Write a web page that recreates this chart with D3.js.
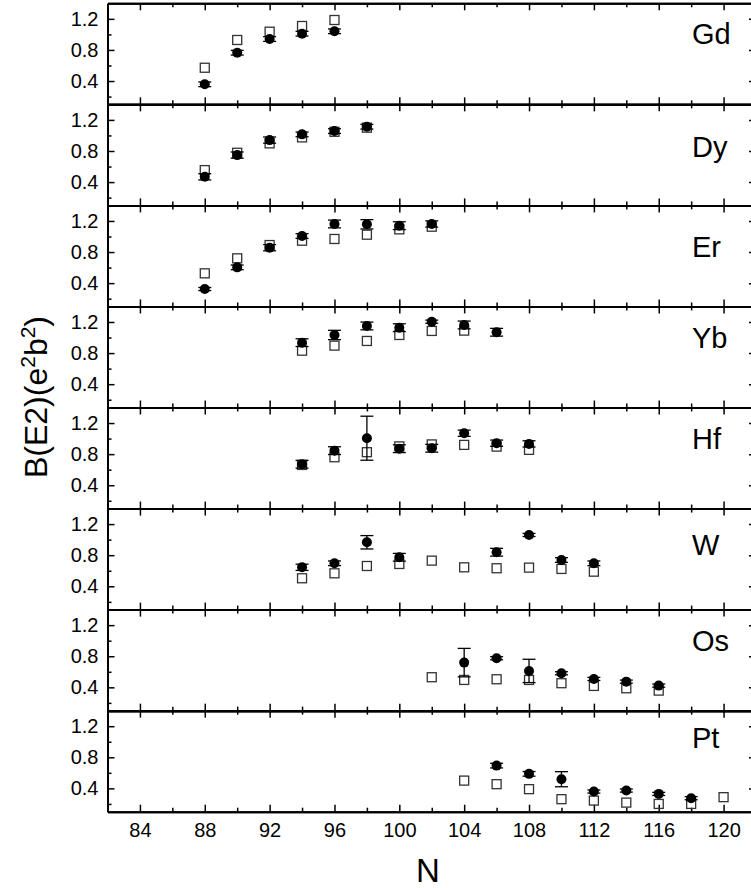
<!DOCTYPE html>
<html>
<head>
<meta charset="utf-8">
<script src="https://cdn.jsdelivr.net/npm/d3@7"></script>
<style>
  html, body { margin: 0; padding: 0; background: #fff; }
  svg { display: block; font-family: "Liberation Sans", Arial, sans-serif; }
</style>
</head>
<body>
<svg id="chart" width="751" height="888"></svg>
<script>
// ---------------- DATA ----------------
const elements = ["Gd", "Dy", "Er", "Yb", "Hf", "W", "Os", "Pt"];

// filled circles (experiment) : N, value, error
const expGd = [[88,0.358,0.03],[90,0.764,0.03],[92,0.94,0.03],[94,1.009,0.03],[96,1.04,0.03]];
const expDy = [[88,0.468,0.04],[90,0.747,0.04],[92,0.94,0.04],[94,1.014,0.03],[96,1.056,0.03],[98,1.112,0.03]];
const expEr = [[88,0.324,0.02],[90,0.603,0.03],[92,0.856,0.04],[94,1.006,0.03],[96,1.161,0.05],[98,1.157,0.06],[100,1.139,0.05],[102,1.161,0.04]];
const expYb = [[94,0.934,0.05],[96,1.033,0.06],[98,1.149,0.05],[100,1.127,0.05],[102,1.204,0.02],[104,1.162,0.05],[106,1.068,0.05]];
const expHf = [[94,0.67,0.05],[96,0.845,0.05],[98,1.005,0.283],[100,0.87,0.05],[102,0.876,0.05],[104,1.069,0.04],[106,0.941,0.04],[108,0.932,0.04]];
const expW  = [[94,0.644,0.04],[96,0.696,0.03],[98,0.966,0.086],[100,0.773,0.05],[106,0.838,0.05],[108,1.06,0.02],[110,0.738,0.03],[112,0.696,0.03]];
const expOs = [[104,0.718,0.183],[106,0.774,0.02],[108,0.611,0.15],[110,0.581,0.02],[112,0.508,0.02],[114,0.473,0.02],[116,0.422,0.02]];
const expPt = [[106,0.693,0.03],[108,0.587,0.03],[110,0.518,0.097],[112,0.359,0.02],[114,0.372,0.02],[116,0.329,0.02],[118,0.274,0.02]];

// open squares (calculation) : N, value
const thGd = [[88,0.571],[90,0.928],[92,1.035],[94,1.108],[96,1.185]];
const thDy = [[88,0.554],[90,0.777],[92,0.898],[94,0.975],[96,1.047],[98,1.10]];
const thEr = [[88,0.526],[90,0.719],[92,0.89],[94,0.946],[96,0.968],[98,1.023],[100,1.092],[102,1.126]];
const thYb = [[94,0.831],[96,0.896],[98,0.956],[100,1.033],[102,1.085],[104,1.089]];
const thHf = [[94,0.661],[96,0.76],[98,0.825],[100,0.90],[102,0.925],[104,0.919],[106,0.897],[108,0.855]];
const thW  = [[94,0.503],[96,0.567],[98,0.661],[100,0.687],[102,0.73],[104,0.644],[106,0.632],[108,0.64],[110,0.623],[112,0.588]];
const thOs = [[102,0.53],[104,0.495],[106,0.504],[108,0.495],[110,0.453],[112,0.418],[114,0.388],[116,0.358]];
const thPt = [[104,0.50],[106,0.454],[108,0.39],[110,0.261],[112,0.243],[114,0.217],[116,0.20],[118,0.20],[120,0.287]];

const expData = [expGd, expDy, expEr, expYb, expHf, expW, expOs, expPt];
const thData  = [thGd, thDy, thEr, thYb, thHf, thW, thOs, thPt];

const xMajorTicks = [84, 88, 92, 96, 100, 104, 108, 112, 116, 120];
const xMinorTicks = [86, 90, 94, 98, 102, 106, 110, 114, 118];
const yMajorTicks = [0.4, 0.8, 1.2];
const yMinorTicks = [0.2, 0.6, 1.0];

// label placement (pixels below panel top) - layout only
const labelOffset = [41, 53, 52, 42, 41, 46, 41, 37];

// ---------------- LAYOUT ----------------
const svg = d3.select("#chart");
const left = 107.5, right = 756;
const top0 = 3.3, panelH = 101.05;
const x = d3.scaleLinear().domain([82, 122]).range([left, right]);

const axisColor = "#000";

elements.forEach((el, i) => {
  const top = top0 + i * panelH;
  const bottom = top + panelH;
  const y = d3.scaleLinear().domain([0.1, 1.4]).range([bottom, top]);
  const g = svg.append("g");

  const isLast = i === elements.length - 1;
  g.append("g").attr("transform", `translate(0,${bottom})`)
    .call(d3.axisBottom(x).tickValues(xMajorTicks).tickSize(-7).tickSizeOuter(0)
      .tickPadding(11.5).tickFormat(isLast ? d3.format("d") : ""));
  g.append("g").attr("transform", `translate(0,${bottom})`)
    .call(d3.axisBottom(x).tickValues(xMinorTicks).tickSize(-4).tickSizeOuter(0).tickFormat(""));
  g.append("g").attr("transform", `translate(0,${top})`)
    .call(d3.axisTop(x).tickValues(xMajorTicks).tickSize(-7).tickSizeOuter(0).tickFormat(""));
  g.append("g").attr("transform", `translate(0,${top})`)
    .call(d3.axisTop(x).tickValues(xMinorTicks).tickSize(-4).tickSizeOuter(0).tickFormat(""));
  g.append("g").attr("transform", `translate(${left},0)`)
    .call(d3.axisLeft(y).tickValues(yMajorTicks).tickSize(-7).tickSizeOuter(0)
      .tickPadding(9).tickFormat(d3.format(".1f")));
  g.append("g").attr("transform", `translate(${left},0)`)
    .call(d3.axisLeft(y).tickValues(yMinorTicks).tickSize(-4).tickSizeOuter(0).tickFormat(""));
  g.append("g").attr("transform", `translate(${right},0)`)
    .call(d3.axisRight(y).tickValues(yMajorTicks).tickSize(-7).tickSizeOuter(0).tickFormat(""));
  g.append("g").attr("transform", `translate(${right},0)`)
    .call(d3.axisRight(y).tickValues(yMinorTicks).tickSize(-4).tickSizeOuter(0).tickFormat(""));

  g.selectAll(".domain").attr("stroke", axisColor).attr("stroke-width", 2);
  g.selectAll(".tick line").attr("stroke", axisColor).attr("stroke-width", 1.5);
  g.selectAll(".tick text").attr("font-size", 20).attr("fill", "#000")
    .attr("font-family", "'Liberation Sans', Arial, sans-serif");

  g.append("text").attr("x", 692).attr("y", top + labelOffset[i])
    .attr("font-size", 29).attr("fill", "#000").text(el);

  const s = 9;
  g.selectAll("rect.th").data(thData[i]).enter().append("rect")
    .attr("class", "th")
    .attr("x", d => x(d[0]) - s / 2).attr("y", d => y(d[1]) - s / 2)
    .attr("width", s).attr("height", s)
    .attr("fill", "none").attr("stroke", "#333").attr("stroke-width", 1.3);

  const cap = 6.5;
  const eb = g.selectAll("g.eb").data(expData[i]).enter().append("g").attr("class", "eb")
    .attr("stroke", "#000").attr("stroke-width", 1.3);
  eb.append("line").attr("x1", d => x(d[0])).attr("x2", d => x(d[0]))
    .attr("y1", d => y(d[1] - d[2])).attr("y2", d => y(d[1] + d[2]));
  eb.append("line").attr("x1", d => x(d[0]) - cap).attr("x2", d => x(d[0]) + cap)
    .attr("y1", d => y(d[1] - d[2])).attr("y2", d => y(d[1] - d[2]));
  eb.append("line").attr("x1", d => x(d[0]) - cap).attr("x2", d => x(d[0]) + cap)
    .attr("y1", d => y(d[1] + d[2])).attr("y2", d => y(d[1] + d[2]));

  g.selectAll("circle.exp").data(expData[i]).enter().append("circle")
    .attr("class", "exp")
    .attr("cx", d => x(d[0])).attr("cy", d => y(d[1])).attr("r", 5)
    .attr("fill", "#000");
});

svg.append("text").attr("x", 428).attr("y", 882).attr("text-anchor", "middle")
  .attr("font-size", 33).attr("fill", "#000").text("N");

const yl = svg.append("text")
  .attr("transform", "translate(47,397) rotate(-90)")
  .attr("text-anchor", "middle").attr("font-size", 32).attr("fill", "#000");
yl.append("tspan").text("B(E2)(e");
yl.append("tspan").attr("font-size", 21).attr("dy", -12).text("2");
yl.append("tspan").attr("dy", 12).text("b");
yl.append("tspan").attr("font-size", 21).attr("dy", -12).text("2");
yl.append("tspan").attr("dy", 12).text(")");
</script>
</body>
</html>
